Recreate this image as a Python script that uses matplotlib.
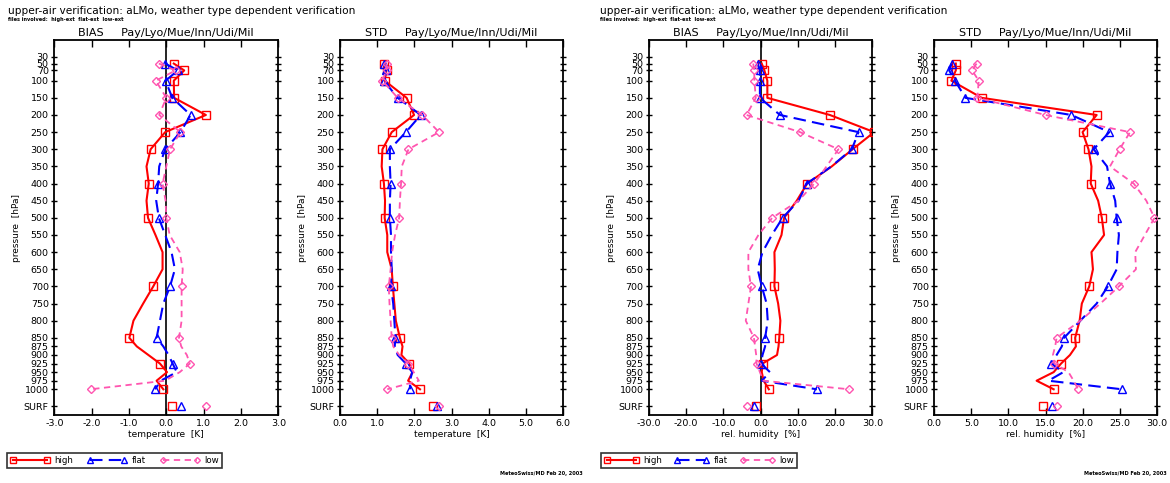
import matplotlib
matplotlib.use("Agg")
import matplotlib.pyplot as plt
from matplotlib.lines import Line2D

# ---------------- data ----------------
levels = [50, 70, 100, 150, 200, 250, 300, 350, 400, 450, 500, 550, 600, 650,
          700, 750, 800, 850, 875, 900, 925, 950, 975, 1000]
marker_levels = [50, 70, 100, 150, 200, 250, 300, 400, 500, 700, 850, 925, 1000]
ytick_values = [30, 50, 70, 100, 150, 200, 250, 300, 350, 400, 450, 500, 550, 600,
                650, 700, 750, 800, 850, 875, 900, 925, 950, 975, 1000, 1050]
ytick_labels = ["30", "50", "70", "100", "150", "200", "250", "300", "350", "400",
                "450", "500", "550", "600", "650", "700", "750", "800", "850", "875",
                "900", "925", "950", "975", "1000", "SURF"]
surf_level = 1050

temp_bias_high = [0.20, 0.48, 0.20, 0.21, 1.06, -0.03, -0.42, -0.53, -0.47, -0.53, -0.49, -0.29,
                  -0.10, -0.10, -0.35, -0.62, -0.88, -0.99, -0.79, -0.48, -0.17, 0.02, -0.26, -0.08]
temp_bias_flat = [-0.03, 0.31, -0.02, 0.16, 0.65, 0.38, -0.03, -0.19, -0.22, -0.27, -0.20, -0.03,
                  0.14, 0.23, 0.10, -0.08, -0.17, -0.26, -0.08, 0.06, 0.17, 0.28, -0.15, -0.30]
temp_bias_low = [-0.20, 0.25, -0.28, 0.00, -0.19, 0.38, 0.10, 0.00, -0.10, -0.02, 0.00, 0.09,
                 0.36, 0.44, 0.41, 0.41, 0.41, 0.34, 0.40, 0.55, 0.63, 0.36, -0.03, -2.03]
temp_bias_surf = [0.14, 0.39, 1.07]

temp_std_high = [1.18, 1.25, 1.20, 1.79, 1.99, 1.39, 1.14, 1.12, 1.18, 1.21, 1.20, 1.27,
                 1.27, 1.39, 1.42, 1.46, 1.50, 1.61, 1.68, 1.65, 1.86, 1.95, 1.83, 2.15]
temp_std_flat = [1.19, 1.23, 1.18, 1.55, 2.17, 1.77, 1.34, 1.34, 1.36, 1.34, 1.34, 1.37,
                 1.37, 1.39, 1.37, 1.43, 1.46, 1.49, 1.47, 1.55, 1.77, 1.94, 1.88, 1.88]
temp_std_low = [1.25, 1.25, 1.14, 1.55, 2.21, 2.66, 1.84, 1.66, 1.64, 1.61, 1.59, 1.48,
                1.40, 1.36, 1.31, 1.33, 1.36, 1.39, 1.43, 1.59, 1.84, 1.98, 2.12, 1.27]
temp_std_surf = [2.49, 2.60, 2.66]

rh_bias_high = [0.3, 1.0, 1.8, 1.8, 18.6, 30.5, 24.7, 19.1, 12.5, 9.7, 6.3, 5.6,
                3.7, 3.8, 3.7, 4.7, 5.3, 5.0, 4.8, 4.4, 0.5, 0.3, 0.8, 2.2]
rh_bias_flat = [-0.8, -0.2, -0.2, -0.2, 5.2, 26.3, 24.5, 19.0, 12.4, 10.2, 5.9, 3.0,
                0.5, -0.8, 0.3, 1.6, 1.9, 1.2, 1.2, 0.5, 0.1, 2.5, 0.3, 15.1]
rh_bias_low = [-2.0, -1.7, -1.7, -1.3, -3.8, 10.6, 20.9, 17.7, 14.4, 10.2, 3.1, -0.6,
               -3.3, -3.3, -2.6, -3.3, -4.0, -1.8, -1.5, -1.2, -1.1, -0.2, 0.7, 23.8]
rh_bias_surf = [-1.3, -1.7, -3.6]

rh_std_high = [2.9, 2.9, 2.3, 6.4, 21.9, 20.0, 20.8, 21.2, 21.1, 22.1, 22.6, 22.9,
               21.2, 21.4, 20.9, 19.9, 19.6, 19.0, 19.1, 18.3, 17.1, 16.1, 13.8, 16.1]
rh_std_flat = [2.35, 2.0, 2.8, 4.2, 18.5, 23.6, 21.5, 23.3, 23.7, 24.4, 24.6, 24.9,
               24.7, 24.6, 23.4, 21.9, 19.7, 17.5, 17.2, 16.5, 15.8, 17.4, 15.4, 25.3]
rh_std_low = [5.7, 5.1, 6.0, 5.8, 15.0, 26.4, 25.0, 23.7, 26.9, 28.6, 29.7, 28.4,
              27.1, 27.2, 24.9, 22.4, 19.7, 16.5, 16.3, 16.0, 16.2, 18.1, 18.8, 19.4]
rh_std_surf = [14.7, 15.9, 16.6]

series_names = ["high", "flat", "low"]
main_title = "upper-air verification: aLMo, weather type dependent verification"
sub_title = "files involved:  high-ext  flat-ext  low-ext"
stations = "Pay/Lyo/Mue/Inn/Udi/Mil"
footer = "MeteoSwiss/MD Feb 20, 2003"

# ---------------- styles ----------------
W, H = 1170, 483
styles = [
    dict(color="#ff0000", ls="-", lw=1.5, marker="s", ms=6.0, mew=1.0),
    dict(color="#0000ff", ls=(0, (6, 3)), lw=1.5, marker="^", ms=6.0, mew=1.0),
    dict(color="#ff55b0", ls=(0, (3.5, 2.5)), lw=1.3, marker="D", ms=4.0, mew=1.0),
]

fig = plt.figure(figsize=(W / 100, H / 100), dpi=100)
plt.rcParams["font.family"] = ["DejaVu Sans"]


def fx(px):
    return px / W


def fy(py):
    return 1 - py / H


panels = [
    dict(left=54.3, right=278.3, xlim=(-3, 3), ticks=[-3, -2, -1, 0, 1, 2, 3], fmt="%.1f",
         kind="BIAS", xlabel="temperature  [K]", data=[temp_bias_high, temp_bias_flat, temp_bias_low],
         surf=temp_bias_surf, zero=True),
    dict(left=340.0, right=563.3, xlim=(0, 6), ticks=[0, 1, 2, 3, 4, 5, 6], fmt="%.1f",
         kind="STD", xlabel="temperature  [K]", data=[temp_std_high, temp_std_flat, temp_std_low],
         surf=temp_std_surf, zero=False),
    dict(left=649.0, right=872.3, xlim=(-30, 30), ticks=[-30, -20, -10, 0, 10, 20, 30], fmt="%.1f",
         kind="BIAS", xlabel="rel. humidity  [%]", data=[rh_bias_high, rh_bias_flat, rh_bias_low],
         surf=rh_bias_surf, zero=True),
    dict(left=934.3, right=1156.7, xlim=(0, 30), ticks=[0, 5, 10, 15, 20, 25, 30], fmt="%.1f",
         kind="STD", xlabel="rel. humidity  [%]", data=[rh_std_high, rh_std_flat, rh_std_low],
         surf=rh_std_surf, zero=False),
]

ax_top, ax_bot = 40.0, 415.0
mark_idx = [levels.index(l) for l in marker_levels]

for p in panels:
    ax = fig.add_axes([fx(p["left"]), fy(ax_bot), fx(p["right"] - p["left"]), (ax_bot - ax_top) / H])
    ax.set_xlim(*p["xlim"])
    ax.set_ylim(1075, -18.7)
    if p["zero"]:
        ax.axvline(0, color="black", lw=1.2, zorder=1)
    for vals, sv, st in zip(p["data"], p["surf"], styles):
        ax.plot(vals, levels, color=st["color"], ls=st["ls"], lw=st["lw"],
                marker=st["marker"], ms=st["ms"], mew=st["mew"], mfc="none",
                markevery=mark_idx, zorder=3)
        ax.plot([sv], [surf_level], color=st["color"], ls="none", marker=st["marker"],
                ms=st["ms"], mew=st["mew"], mfc="none", zorder=3)
    ax.set_yticks(ytick_values)
    ax.set_yticklabels(ytick_labels)
    ax.set_xticks(p["ticks"])
    ax.set_xticklabels([p["fmt"] % t for t in p["ticks"]])
    ax.tick_params(axis="y", which="both", direction="inout", length=5, width=1.0,
                   left=True, right=True, labelsize=6.8, pad=1.5)
    ax.tick_params(axis="x", which="both", direction="in", length=5, width=1.0,
                   top=True, bottom=True, labelsize=6.8, pad=3)
    for s in ax.spines.values():
        s.set_linewidth(1.3)
    ax.set_xlabel(p["xlabel"], fontsize=6.5, labelpad=1)
    ax.set_ylabel("pressure  [hPa]", fontsize=6.5, labelpad=2)
    ax.set_title(p["kind"] + "     " + stations, fontsize=8, pad=3)

# headers, legends, footers for both halves
halves = [dict(off=0, foot_right=583, leg_left=7, hlen=4.6, cspace=1.7),
          dict(off=592, foot_right=1167, leg_left=601, hlen=4.0, cspace=1.5)]
for h in halves:
    off = h["off"]
    fig.text(fx(8 + off), fy(11), main_title, fontsize=7.6, va="center", ha="left")
    fig.text(fx(8 + off), fy(19.5), sub_title, fontsize=3.6, va="center", ha="left",
             fontweight="bold")
    fig.text(fx(h["foot_right"]), fy(473), footer, fontsize=3.6, va="center", ha="right",
             fontweight="bold")
    handles = [Line2D([0], [0], color=st["color"], ls=st["ls"], lw=st["lw"], marker=st["marker"],
                      ms=st["ms"] * 0.75, mew=st["mew"], mfc="none") for st in styles]
    leg = fig.legend(handles, series_names, loc="center left",
                     bbox_to_anchor=(fx(h["leg_left"]), fy(460.8)), ncol=3, numpoints=2,
                     handlelength=h["hlen"], handletextpad=0.5, columnspacing=h["cspace"],
                     fontsize=6.2, frameon=True, fancybox=False, borderpad=0.35,
                     borderaxespad=0)
    leg.get_frame().set_edgecolor("black")
    leg.get_frame().set_linewidth(1.2)

fig.savefig("out.png", dpi=100)
